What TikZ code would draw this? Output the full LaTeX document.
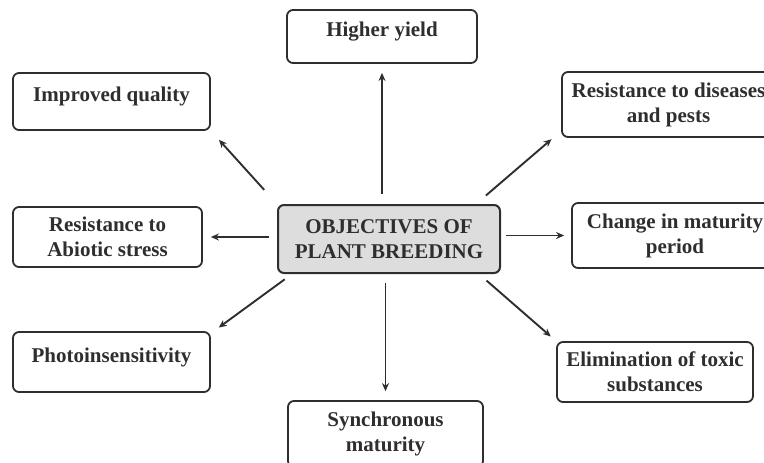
\documentclass[tikz,border=0pt]{standalone}
\usepackage{fontspec}
\setmainfont{Liberation Serif}
\usetikzlibrary{arrows.meta}

\definecolor{inkgray}{HTML}{2E2E2E}
\definecolor{hubfill}{HTML}{DDDDDD}

\begin{document}
\begin{tikzpicture}[x=1pt, y=-1pt,
    goal/.style={draw=inkgray, line width=1.8pt, rounded corners=6pt, inner sep=0pt,
      align=center, text=inkgray, font=\fontsize{21}{25}\selectfont\bfseries},
    oneline/.style={goal, text height=14pt, text depth=14pt},
    hub/.style={goal, fill=hubfill, line width=2pt},
    arrow/.style={draw=inkgray, line width=1.9pt, -{Stealth[length=8pt,width=7pt]}}]
  \useasboundingbox (0,0) rectangle (764,463);
  \clip (0,0) rectangle (764,463);

  % Centre box
  \node[hub, minimum width=222, minimum height=68] (hub) at (389,239)
    {OBJECTIVES OF\\PLANT BREEDING};

  % Objectives round it
  \node[oneline, minimum width=190, minimum height=53] (yield) at (382,36.5)
    {Higher yield};
  \node[oneline, minimum width=197, minimum height=57] (quality) at (111.5,101.5)
    {Improved quality};
  \node[goal, minimum width=213, minimum height=65] (disease) at (668.5,104.5)
    {Resistance to diseases\\and pests};
  \node[goal, minimum width=206, minimum height=65] (maturity) at (675,235.5)
    {Change in maturity\\period};
  \node[goal, minimum width=189, minimum height=60] (abiotic) at (107.5,237)
    {Resistance to\\Abiotic stress};
  \node[oneline, minimum width=197, minimum height=60] (photo) at (111.5,362)
    {Photoinsensitivity};
  \node[goal, minimum width=196, minimum height=60] (toxic) at (655,372)
    {Elimination of toxic\\substances};
  \node[goal, minimum width=195, minimum height=66] (sync) at (385.5,434)
    {Synchronous\\maturity};

  % Arrows out of the centre
  \draw[arrow, shorten <=10pt, shorten >=9pt] (yield |- hub.north) -- (yield);
  \draw[arrow, shorten <=9pt, shorten >=9pt] (sync |- hub.south) -- (sync);
  \draw[arrow, shorten <=8pt, shorten >=8pt] (abiotic -| hub.west) -- (abiotic);
  \draw[arrow, shorten <=5pt, shorten >=7pt] (maturity -| hub.east) -- (maturity);
  \draw[arrow, shorten <=19pt, shorten >=12pt] (hub.north west) -- (quality.south east);
  \draw[arrow, shorten <=13pt, shorten >=2pt]
    ([xshift=-25pt]hub.north east) -- ([xshift=-8pt]disease.south west);
  \draw[arrow, shorten <=10pt, shorten >=7pt]
    ([xshift=-22pt]hub.south east) -- (toxic.north west);
  \draw[arrow, shorten <=9pt, shorten >=6pt]
    ([xshift=15pt]hub.south west) -- ([xshift=3pt]photo.north east);
\end{tikzpicture}
\end{document}
